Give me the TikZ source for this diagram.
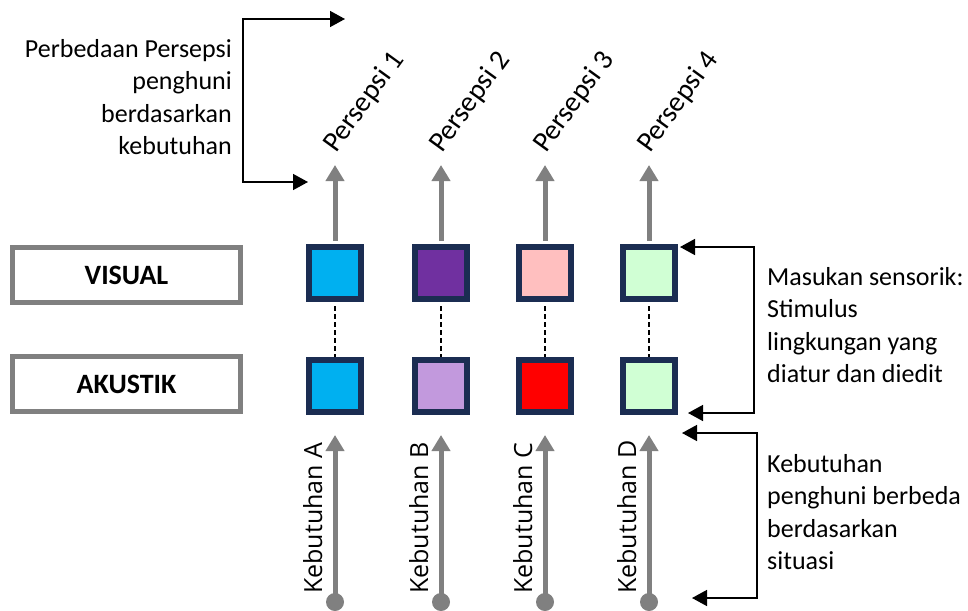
\documentclass[tikz,border=0pt]{standalone}
\usepackage{fontspec}
\setmainfont{Carlito}
\newfontfamily\needfont{Open Sans}
\usetikzlibrary{arrows.meta}

\definecolor{navy}{HTML}{1B2D52}
\definecolor{cyanfill}{HTML}{00B0F0}
\definecolor{purplefill}{HTML}{7030A0}
\definecolor{pinkfill}{HTML}{FFBFBF}
\definecolor{greenfill}{HTML}{D0FFD4}
\definecolor{lilacfill}{HTML}{C299DD}
\definecolor{redfill}{HTML}{FF0000}
\definecolor{arrgray}{HTML}{808080}

\begin{document}
\begin{tikzpicture}[x=1pt, y=-1pt, font=\fontsize{26}{32.5}\selectfont]
  \tikzstyle{modebox} = [draw=arrgray, line width=5pt, minimum width=228pt,
                         minimum height=55pt, inner sep=0pt, font=\fontsize{28}{32}\selectfont\bfseries]
  \tikzstyle{sq} = [draw=navy, line width=6pt, minimum size=52pt, inner sep=0pt]
  \tikzstyle{grayarr} = [draw=arrgray, line width=5pt, -{Triangle[length=16pt, width=18pt]}]
  \tikzstyle{blkarr} = [draw=black, line width=1.5pt, {Triangle[length=15pt, width=16pt]}-{Triangle[length=15pt, width=16pt]}]
  \tikzstyle{dot} = [circle, fill=arrgray, minimum size=18pt, inner sep=0pt]
  \tikzstyle{persp} = [rotate=54, anchor=base west, inner sep=0pt, font=\fontsize{28.5}{32}\selectfont]
  \tikzstyle{need} = [rotate=90, anchor=base west, inner sep=0pt, font=\needfont\fontsize{25}{30}\selectfont]
  \tikzstyle{link} = [line width=1.3pt, dash pattern=on 5pt off 3pt]

  \useasboundingbox (0,0) rectangle (968,610);

  % kotak mode
  \node[modebox] (visual) at (126.5,275) {VISUAL};
  \node[modebox] (akustik) at (126.5,384) {AKUSTIK};

  % kotak warna baris atas
  \node[sq, fill=cyanfill]   (v1) at (335,273) {};
  \node[sq, fill=purplefill] (v2) at (441,273) {};
  \node[sq, fill=pinkfill]   (v3) at (545,273) {};
  \node[sq, fill=greenfill]  (v4) at (649,273) {};

  % kotak warna baris bawah
  \node[sq, fill=cyanfill]   (a1) at (335,386) {};
  \node[sq, fill=lilacfill]  (a2) at (441,386) {};
  \node[sq, fill=redfill]    (a3) at (545,386) {};
  \node[sq, fill=greenfill]  (a4) at (649,386) {};

  % garis putus-putus
  \draw[link] ([yshift=-4pt]v1.south) -- (a1.north);
  \draw[link] ([yshift=-4pt]v2.south) -- (a2.north);
  \draw[link] ([yshift=-4pt]v3.south) -- (a3.north);
  \draw[link] ([yshift=-4pt]v4.south) -- (a4.north);

  % panah persepsi
  \coordinate (p1tip) at (335,165);
  \coordinate (p2tip) at (441,165);
  \coordinate (p3tip) at (545,165);
  \coordinate (p4tip) at (649,165);
  \draw[grayarr] ([yshift=3pt]v1.north) -- (p1tip);
  \draw[grayarr] ([yshift=3pt]v2.north) -- (p2tip);
  \draw[grayarr] ([yshift=3pt]v3.north) -- (p3tip);
  \draw[grayarr] ([yshift=3pt]v4.north) -- (p4tip);
  \node[persp] (pl1) at (336,154) {Persepsi 1};
  \node[persp] (pl2) at (442,154) {Persepsi 2};
  \node[persp] (pl3) at (546,154) {Persepsi 3};
  \node[persp] (pl4) at (650,154) {Persepsi 4};

  % panah kebutuhan
  \node[dot] (k1) at (335,602) {};
  \node[dot] (k2) at (441,602) {};
  \node[dot] (k3) at (545,602) {};
  \node[dot] (k4) at (649,602) {};
  \coordinate (k1tip) at (335,435);
  \coordinate (k2tip) at (441,435);
  \coordinate (k3tip) at (545,435);
  \coordinate (k4tip) at (649,435);
  \draw[grayarr] (k1.center) -- (k1tip);
  \draw[grayarr] (k2.center) -- (k2tip);
  \draw[grayarr] (k3.center) -- (k3tip);
  \draw[grayarr] (k4.center) -- (k4tip);
  \node[need] (n1) at (322,594) {Kebutuhan A};
  \node[need] (n2) at (428,594) {Kebutuhan B};
  \node[need] (n3) at (532,594) {Kebutuhan C};
  \node[need] (n4) at (636,594) {Kebutuhan D};

  % kurung kiri
  \coordinate (ltop) at (345,19);
  \coordinate (lbar) at (243,100);
  \coordinate (lbot) at (308,182);
  \draw[blkarr] (ltop) -| (lbar) |- (lbot);
  \node[anchor=north east, align=right, inner sep=0pt] (ltext) at (232,39)
    {Perbedaan Persepsi\\penghuni\\berdasarkan\\kebutuhan};

  % kurung kanan atas
  \coordinate (rtop) at (680,247);
  \coordinate (rbar) at (754,330);
  \coordinate (rbot) at (688,413);
  \draw[blkarr] (rtop) -| (rbar) |- (rbot);
  \node[anchor=north west, align=left, inner sep=0pt] (rtext) at (767,267)
    {Masukan sensorik:\\Stimulus\\lingkungan yang\\diatur dan diedit};

  % kurung kanan bawah
  \coordinate (stop) at (682,433);
  \coordinate (sbar) at (757,515);
  \coordinate (sbot) at (692,598);
  \draw[blkarr] (stop) -| (sbar) |- (sbot);
  \node[anchor=north west, align=left, inner sep=0pt] (stext) at (767,454)
    {Kebutuhan\\penghuni berbeda\\berdasarkan\\situasi};
\end{tikzpicture}
\end{document}
